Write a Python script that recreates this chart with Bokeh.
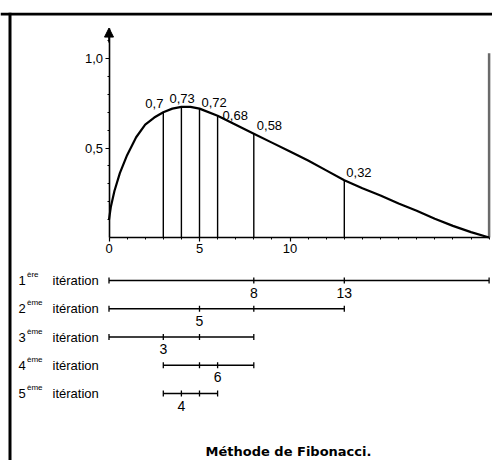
import numpy as np
from bokeh.plotting import figure
from bokeh.models import (LinearAxis, FixedTicker, Span, Arrow, NormalHead,
                          Range1d)
from bokeh.core.properties import value
from bokeh.embed import file_html
from bokeh.resources import INLINE

# ---------------- data ----------------
curve_x = [0, 0.1, 0.3, 0.6, 1.0, 1.5, 2.0, 2.5, 3, 3.5, 4, 4.5, 5, 6, 7, 8,
           9, 10, 11, 12, 13, 14, 15, 16, 17, 18, 19, 20, 21]
curve_y = [0.10, 0.17, 0.26, 0.36, 0.46, 0.56, 0.63, 0.67, 0.70, 0.72, 0.73,
           0.73, 0.72, 0.68, 0.63, 0.58, 0.53, 0.48, 0.43, 0.375, 0.32, 0.275,
           0.235, 0.19, 0.15, 0.105, 0.065, 0.03, 0.0]

eval_x = [3, 4, 5, 6, 8, 13]
eval_y = [0.70, 0.73, 0.72, 0.68, 0.58, 0.32]
eval_labels = ["0,7", "0,73", "0,72", "0,68", "0,58", "0,32"]

x_max = 21
x_max_line_top = 1.03
y_axis_top = 1.17

x_ticks = [0, 5, 10]
x_tick_labels = ["0", "5", "10"]
x_minor = list(range(0, 22))
y_ticks = [0.5, 1.0]
y_tick_labels = ["0,5", "1,0"]
y_minor = [0.1, 0.2, 0.3, 0.4, 0.6, 0.7, 0.8, 0.9, 1.1]

iter_num = ["1", "2", "3", "4", "5"]
iter_sup = ["ère", "ème", "ème", "ème", "ème"]
iter_word = "itération"
iter_start = [0, 0, 0, 3, 3]
iter_end = [21, 13, 8, 8, 6]
iter_points = [[8, 13], [5, 8], [3, 5], [5, 6], [4, 5]]
iter_new = [[8, 13], [5], [3], [6], [4]]

title_text = "Méthode de Fibonacci."

# ---------------- layout (pixel mapping) ----------------
W, H = 492, 460
TOP = 12
X0, SX = 108.5, 18.1       # canvas px of x=0, px per unit
Y0, SY = 237.0, 179.0      # canvas px of y=0, px per unit


def xd(px):
    return (px - X0) / SX


def yd(py):
    return (Y0 - py) / SY


p = figure(width=W, height=H, output_backend="svg", toolbar_location=None,
           x_axis_type=None, y_axis_type=None,
           x_range=Range1d(xd(0), xd(W)),
           y_range=Range1d(yd(H), yd(TOP)),
           min_border_left=0, min_border_right=0, min_border_bottom=0,
           min_border_top=TOP)
p.outline_line_color = None
p.background_fill_color = "white"
p.border_fill_color = "white"

FONT = value("Liberation Sans")

# axes through the origin
xaxis = LinearAxis(fixed_location=0, bounds=(0, x_max),
                   ticker=FixedTicker(ticks=x_ticks, minor_ticks=x_minor))
xaxis.major_label_overrides = {t: l for t, l in zip(x_ticks, x_tick_labels)}
yaxis = LinearAxis(fixed_location=0, bounds=(0, y_axis_top),
                   ticker=FixedTicker(ticks=y_ticks, minor_ticks=y_minor))
yaxis.major_label_overrides = {t: l for t, l in zip(y_ticks, y_tick_labels)}
for ax in (xaxis, yaxis):
    ax.axis_line_width = 1.6
    ax.axis_line_color = "black"
    ax.major_tick_in = 0
    ax.major_tick_out = 4
    ax.minor_tick_in = 0
    ax.minor_tick_out = 2
    ax.major_tick_line_width = 1.2
    ax.major_label_text_font = "Liberation Sans"
    ax.major_label_text_font_size = "13px"
    ax.major_label_text_color = "black"
    ax.major_label_standoff = 2
p.add_layout(xaxis, "below")
p.add_layout(yaxis, "left")

p.add_layout(Arrow(end=NormalHead(size=9, fill_color="black", line_color="black"),
                   x_start=0, y_start=y_axis_top - 0.08, x_end=0, y_end=y_axis_top,
                   line_width=1.6))

# right boundary line at x = 21
p.segment(x0=[x_max], y0=[0], x1=[x_max], y1=[x_max_line_top],
          line_color="#6a6a6a", line_width=2.5)

# curve
p.line(curve_x, curve_y, line_color="black", line_width=2.2)

# evaluation verticals
p.segment(x0=eval_x, y0=[0] * len(eval_x), x1=eval_x, y1=eval_y,
          line_color="black", line_width=1.4)
lab_dx = [-18, -12, 2, 5, 3, 2]
lab_dy = [-9, -8, -6, 0, -8, -8]
p.text(x=eval_x, y=eval_y, text=eval_labels, x_offset=lab_dx, y_offset=lab_dy,
       text_font=FONT, text_font_size="13px", text_align="left",
       text_baseline="middle", text_color="black")

# iteration rows
row_y0, row_dy = yd(280), 28.25 / SY
row_y = [row_y0 - i * row_dy for i in range(len(iter_num))]
p.segment(x0=iter_start, y0=row_y, x1=iter_end, y1=row_y,
          line_color="black", line_width=1.5)
tx, ty = [], []
for i in range(len(iter_num)):
    for v in [iter_start[i]] + iter_points[i] + [iter_end[i]]:
        tx.append(v)
        ty.append(row_y[i])
p.scatter(tx, ty, marker="dash", angle=np.pi / 2, size=6,
          line_color="black", line_width=1.3)
lx, ly, lt = [], [], []
for i in range(len(iter_num)):
    for v in iter_new[i]:
        lx.append(v)
        ly.append(row_y[i])
        lt.append(str(v))
p.text(x=lx, y=ly, text=lt, y_offset=12, text_font=FONT, text_font_size="14px",
       text_align="center", text_baseline="middle", text_color="black")

zeros = [0] * len(iter_num)
p.text(x=zeros, y=row_y, text=iter_num, x_offset=-90.5, text_font=FONT,
       text_font_size="13px", text_align="left", text_baseline="middle")
p.text(x=zeros, y=row_y, text=iter_sup, x_offset=-82, y_offset=-6, text_font=FONT,
       text_font_size="8px", text_align="left", text_baseline="middle")
p.text(x=zeros, y=row_y, text=[iter_word] * len(iter_num), x_offset=-56.5,
       text_font=FONT, text_font_size="13px", text_align="left",
       text_baseline="middle")

# title at the bottom
p.text(x=[xd(288)], y=[yd(451)], text=[title_text], text_font=value("DejaVu Sans"),
       text_font_style="bold", text_font_size="13px", text_align="center",
       text_baseline="middle", text_color="black")

# frame borders (left and top)
p.add_layout(Span(location=yd(13.5), dimension="width", line_color="black",
                  line_width=3))
p.add_layout(Span(location=xd(9.5), dimension="height", line_color="black",
                  line_width=3))

open("out.html", "w").write(file_html(p, INLINE))
